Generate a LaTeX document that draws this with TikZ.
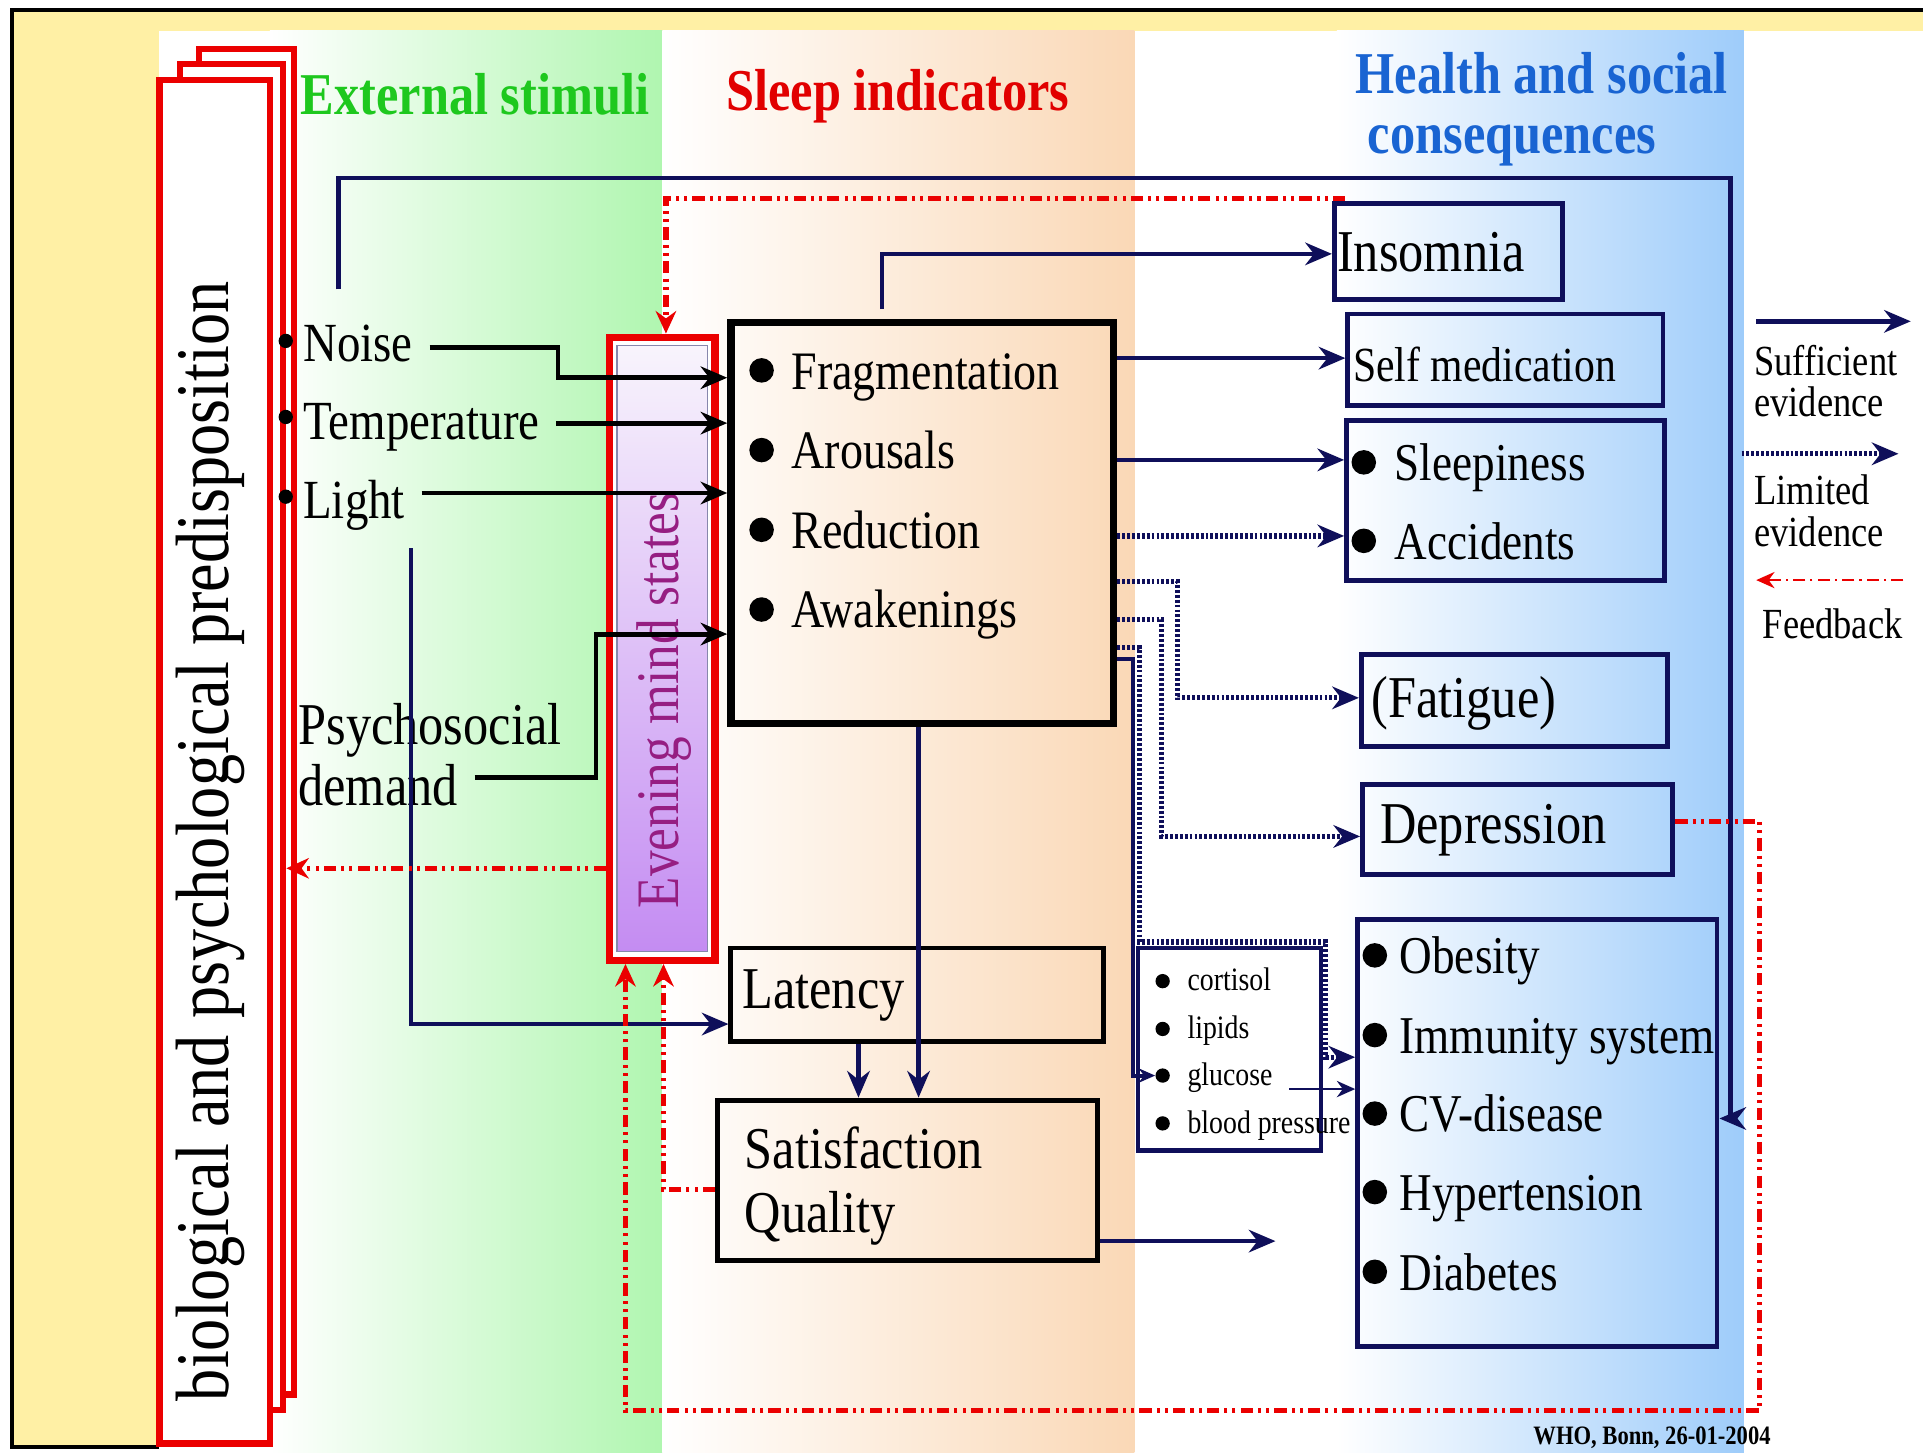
\documentclass[tikz,border=0pt]{standalone}
\usepackage{fontspec}
\setmainfont{Liberation Serif}[FakeStretch=0.85]
\usetikzlibrary{arrows.meta,fit}
\definecolor{navy}{RGB}{15,15,90}
\definecolor{yel}{RGB}{255,240,165}
\definecolor{grn}{RGB}{176,246,176}
\definecolor{pch}{RGB}{250,216,182}
\definecolor{blu}{RGB}{158,204,250}
\definecolor{rd}{RGB}{235,0,0}
\definecolor{ttlgreen}{RGB}{30,200,30}
\definecolor{ttlred}{RGB}{225,0,0}
\definecolor{ttlblue}{RGB}{25,100,210}
\definecolor{evtext}{RGB}{150,30,130}
\definecolor{evtop}{RGB}{248,244,252}
\definecolor{evbot}{RGB}{196,140,242}
\newcommand\myfs[1]{\fontsize{#1}{#1}\selectfont}
\begin{document}
\begin{tikzpicture}[x=0.6pt,y=-0.6pt,
  lbl/.style={inner xsep=8pt, inner ysep=0pt, anchor=base west, xshift=-8pt},
  biobox/.style={draw=rd, fill=white, line width=3pt, inner sep=0pt},
  blkbox/.style={draw=black, line width=2.4pt, inner sep=0pt},
  nbox/.style={draw=navy, line width=2.4pt, inner sep=0pt},
  bul/.style={circle, fill=black, inner sep=0pt, minimum size=12pt},
  sbul/.style={circle, fill=black, inner sep=0pt, minimum size=7pt},
  sol/.style={draw=navy, line width=2.2pt, -{Stealth[length=13pt,width=11pt]}},
  dotl/.style={draw=navy, line width=2.6pt, dash pattern=on 1.4pt off 1pt, -{Stealth[length=13pt,width=11pt]}},
  blk/.style={draw=black, line width=2.4pt, -{Stealth[length=13pt,width=11pt]}},
  fb/.style={draw=rd, line width=2.5pt, dash pattern=on 6pt off 2.5pt on 1.5pt off 2.5pt on 1.5pt off 2.5pt, -{Stealth[length=11pt,width=10pt]}},
  fbthin/.style={draw=rd, line width=0.8pt, dash pattern=on 6pt off 2.5pt on 1pt off 2.5pt, -{Stealth[length=9pt,width=8pt]}}
]
\useasboundingbox (0,0) rectangle (1568,1184);
% background
\fill[white] (0,0) rectangle (1568,1184);
\fill[yel] (10,8) rectangle (1568,25);
\fill[yel] (10,8) rectangle (130,1180);
\shade[left color=white, right color=grn] (220,25) rectangle (540,1184);
\shade[left color=white, right color=pch] (540,25) rectangle (925,1184);
\shade[left color=white, right color=blu] (1090,25) rectangle (1422,1184);
\draw[line width=1.8pt] (1568,8) -- (10,8) -- (10,1180) -- (130,1180);

% stacked predisposition boxes
\node[biobox, fit={(162,40) (240,1137)}] (bio1) {};
\node[biobox, fit={(147,52) (231,1150)}] (bio2) {};
\node[biobox, fit={(130,65) (220,1177)}] (bio3) {};
\node[rotate=90, anchor=base, font=\myfs{37}] (biotext) at (186,686) {biological and psychological predisposition};
\fill (233,278) circle[radius=3.5pt];
\fill (233,340) circle[radius=3.5pt];
\fill (233,405) circle[radius=3.5pt];

% evening mind states
\node[fit={(497,275) (583,783)}, draw=rd, fill=white, line width=3.6pt, inner sep=0pt] (emb) {};
\node[fit={(503,282) (577,776)}, inner sep=0pt, top color=evtop, bottom color=evbot, draw=navy!50, line width=0.6pt] (embin) {};
\node[rotate=90, anchor=base, text=evtext, font=\myfs{29.5}] (evtext) at (553,571) {Evening mind states};

% boxes
\node[fit={(596,263) (908,590)}, draw=black, line width=3.6pt, inner sep=0pt] (central) {};
\node[blkbox, fit={(596,773) (900,849)}] (latency) {};
\node[blkbox, fit={(585,897) (895,1028)}] (satisf) {};
\node[nbox, fit={(1088,166) (1274,244)}] (insomnia) {};
\node[nbox, fit={(1099,256) (1356,331)}] (selfmed) {};
\node[nbox, fit={(1098,343) (1357,473)}] (sleepacc) {};
\node[nbox, fit={(1110,534) (1360,609)}] (fatigue) {};
\node[nbox, fit={(1111,640) (1364,713)}] (depr) {};
\node[nbox, fit={(1107,750) (1400,1098)}] (obes) {};
\node[nbox, fill=white, line width=2.2pt, fit={(928,773) (1077,938)}] (cort) {};

% titles
\node[lbl, text=ttlgreen, font=\bfseries\myfs{29}] (t1) at (245,93) {External stimuli};
\node[lbl, text=ttlred, font=\bfseries\myfs{29}] (t2) at (592,90) {Sleep indicators};
\node[lbl, text=ttlblue, font=\bfseries\myfs{29}] (t3a) at (1105,76) {Health and social};
\node[lbl, text=ttlblue, font=\bfseries\myfs{29}] (t3b) at (1115,125) {consequences};

% stimuli
\node[lbl, font=\myfs{27}] (noise) at (247,295) {Noise};
\node[lbl, font=\myfs{27}] (temp) at (247,358) {Temperature};
\node[lbl, font=\myfs{27}] (light) at (247,423) {Light};
\node[lbl, font=\myfs{29}] (psy) at (243,607) {Psychosocial};
\node[lbl, font=\myfs{29}] (demand) at (243,657) {demand};

% sleep indicators
\node[bul] (b1) at (621,302) {};
\node[bul] (b2) at (621,367) {};
\node[bul] (b3) at (621,432) {};
\node[bul] (b4) at (621,497) {};
\node[lbl, font=\myfs{26.5}] (frag) at (645,318) {Fragmentation};
\node[lbl, font=\myfs{26.5}] (arou) at (645,382) {Arousals};
\node[lbl, font=\myfs{26.5}] (redu) at (645,447) {Reduction};
\node[lbl, font=\myfs{26.5}] (awak) at (645,512) {Awakenings};
\node[lbl, font=\myfs{29}] (lat) at (605,822) {Latency};
\node[lbl, font=\myfs{29}] (sat1) at (607,953) {Satisfaction};
\node[lbl, font=\myfs{29}] (sat2) at (607,1005) {Quality};

% consequences
\node[lbl, font=\myfs{29}] (tins) at (1090,221) {Insomnia};
\node[lbl, font=\myfs{24}] (tself) at (1103,311) {Self medication};
\node[bul] (b5) at (1112,377) {};
\node[bul] (b6) at (1112,441) {};
\node[lbl, font=\myfs{26}] (tsleep) at (1137,392) {Sleepiness};
\node[lbl, font=\myfs{26}] (tacc) at (1137,456) {Accidents};
\node[lbl, font=\myfs{29}] (tfat) at (1118,585) {(Fatigue)};
\node[lbl, font=\myfs{29}] (tdep) at (1125,688) {Depression};
\node[bul] (o1) at (1121,779) {};
\node[bul] (o2) at (1121,844) {};
\node[bul] (o3) at (1121,908) {};
\node[bul] (o4) at (1121,972) {};
\node[bul] (o5) at (1121,1037) {};
\node[lbl, font=\myfs{26}] (tob) at (1141,794) {Obesity};
\node[lbl, font=\myfs{26}] (tim) at (1141,859) {Immunity system};
\node[lbl, font=\myfs{26}] (tcv) at (1141,923) {CV-disease};
\node[lbl, font=\myfs{26}] (thy) at (1141,987) {Hypertension};
\node[lbl, font=\myfs{26}] (tdi) at (1141,1052) {Diabetes};
\node[sbul] (bcor) at (948,800) {};
\node[sbul] (blip) at (948,839) {};
\node[sbul] (bglu) at (948,877) {};
\node[sbul] (bbp) at (948,916) {};
\node[lbl, font=\myfs{16}] (cortisol) at (968,808) {cortisol};
\node[lbl, font=\myfs{16}] (lipids) at (968,847) {lipids};
\node[lbl, font=\myfs{16}] (glucose) at (968,885) {glucose};
\node[lbl, font=\myfs{16}] (bp) at (968,924) {blood pressure};

% legend
\node[lbl, font=\myfs{21}] (lsuf) at (1430,306) {Sufficient};
\node[lbl, font=\myfs{21}] (lev1) at (1430,340) {evidence};
\node[lbl, font=\myfs{21}] (llim) at (1430,411) {Limited};
\node[lbl, font=\myfs{21}] (lev2) at (1430,446) {evidence};
\node[lbl, font=\myfs{21}] (lfb) at (1437,521) {Feedback};
\node[lbl, font=\bfseries\myfs{13}] (who) at (1250,1178) {WHO, Bonn, 26-01-2004};

% free ends
\coordinate (lightdown) at (335,447);
\coordinate (topstart) at (276,236);
\coordinate (insstart) at (719,252);
\coordinate (satend) at (1040,1012);
\coordinate (lg1a) at (1432,262);
\coordinate (lg1b) at (1558,262);
\coordinate (lg2a) at (1420,370);
\coordinate (lg2b) at (1548,370);
\coordinate (lg3a) at (1552,473);
\coordinate (lg3b) at (1432,473);

% stimulus arrows
\draw[blk] (noise.east |- 0,283) -- (455,283) -- (455,308) -- (central.west |- 0,308);
\draw[blk] (temp.east |- 0,345) -- (central.west |- 0,345);
\draw[blk] (light.east |- 0,402) -- (central.west |- 0,402);
\draw[blk] (demand.east |- 0,634) -- (486,634) -- (486,517) -- (central.west |- 0,517);

% navy connectors
\draw[sol] (lightdown) |- (latency.west |- 0,835);
\draw[sol] (topstart) |- (1411,145) |- (obes.east |- 0,912);
\draw[sol] (insstart) |- (insomnia.west |- 0,207);
\draw[sol] (central.east |- 0,292) -- (selfmed.west |- 0,292);
\draw[sol] (central.east |- 0,375) -- (sleepacc.west |- 0,375);
\draw[dotl] (central.east |- 0,437) -- (sleepacc.west |- 0,437);
\draw[dotl] (central.east |- 0,474) -- (960,474) |- (fatigue.west |- 0,569);
\draw[dotl] (central.east |- 0,505) -- (947,505) |- (depr.west |- 0,682);
\draw[dotl] (central.east |- 0,528) -- (929,528) -- (929,768) -- (1081,768) -- (1081,862) -- (obes.west |- 0,862);
\draw[draw=navy, line width=2pt, -{Stealth[length=8pt,width=7pt]}] (central.east |- 0,537) -- (924,537) |- (bglu.west);
\draw[draw=navy, line width=0.8pt, -{Stealth[length=9pt,width=8pt]}] (glucose.east |- 0,888) -- (obes.west |- 0,888);
\draw[sol] (central.south -| 749,0) -- (satisf.north -| 749,0);
\draw[sol] (latency.south -| 700,0) -- (satisf.north -| 700,0);
\draw[sol] (satisf.east |- 0,1012) -- (satend);

% feedback
\draw[fb] (insomnia.north -| 1095,0) -- (1095,162) -- (543,162) -- (emb.north -| 543,0);
\draw[fb] (emb.west |- 0,708) -- (bio2.east |- 0,708);
\draw[fb] (depr.east |- 0,670) -- (1435,670) -- (1435,1150) -- (510,1150) -- (emb.south -| 510,0);
\draw[fb] (satisf.west |- 0,970) -- (541,970) -- (emb.south -| 541,0);

% legend arrows
\draw[sol] (lg1a) -- (lg1b);
\draw[dotl] (lg2a) -- (lg2b);
\draw[fbthin] (lg3a) -- (lg3b);
\end{tikzpicture}
\end{document}
